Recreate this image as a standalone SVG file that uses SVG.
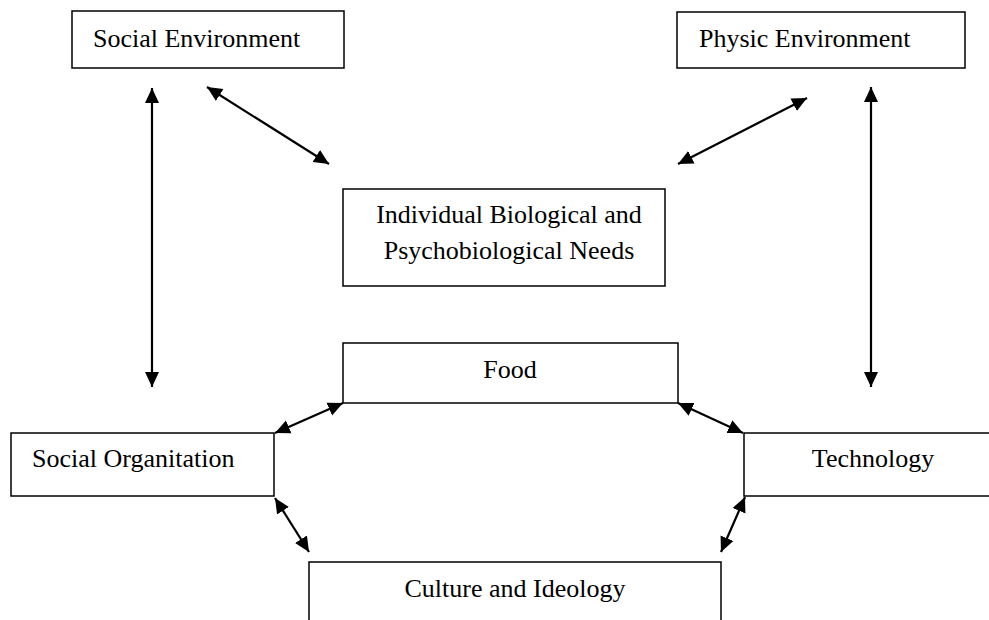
<svg xmlns="http://www.w3.org/2000/svg" width="989" height="620" viewBox="0 0 989 620">
<style>
.box{fill:#fff;stroke:#000;stroke-width:1.5}
.t{font-family:"Liberation Serif","Times New Roman",serif;font-size:26px;fill:#000}
.c{text-anchor:middle}
.arr{stroke:#000;stroke-width:2.2;fill:none;marker-start:url(#ah);marker-end:url(#ah)}
</style>
<defs>
<marker id="ah" markerUnits="userSpaceOnUse" markerWidth="16" markerHeight="16" refX="15" refY="7" orient="auto-start-reverse" viewBox="0 0 16 14">
<path d="M0,0 L15,7 L0,14 z" fill="#000"/>
</marker>
</defs>
<rect width="989" height="620" fill="#fff"/>
<g id="social-environment"><rect class="box" x="72" y="11" width="272" height="57"/><text class="t" x="93" y="47">Social Environment</text></g>
<g id="physic-environment"><rect class="box" x="677" y="12" width="288" height="56"/><text class="t" x="699" y="47">Physic Environment</text></g>
<g id="individual-needs"><rect class="box" x="343" y="189" width="322" height="97"/><text class="t c" x="509" y="223">Individual Biological and</text><text class="t c" x="509" y="259">Psychobiological Needs</text></g>
<g id="food"><rect class="box" x="343" y="343" width="335" height="60"/><text class="t c" x="510" y="378">Food</text></g>
<g id="social-organitation"><rect class="box" x="11" y="433" width="263" height="63"/><text class="t" x="32" y="467">Social Organitation</text></g>
<g id="technology"><rect class="box" x="744" y="433" width="260" height="63"/><text class="t c" x="873" y="467">Technology</text></g>
<g id="culture-ideology"><rect class="box" x="309" y="562" width="412" height="70"/><text class="t c" x="515" y="597">Culture and Ideology</text></g>
<g id="connectors">
<line class="arr" x1="152" y1="88" x2="152" y2="387"/>
<line class="arr" x1="207" y1="87" x2="329" y2="164"/>
<line class="arr" x1="807" y1="98" x2="678" y2="164"/>
<line class="arr" x1="871" y1="87" x2="871" y2="387"/>
<line class="arr" x1="343" y1="403" x2="275" y2="433"/>
<line class="arr" x1="275" y1="498" x2="309" y2="552"/>
<line class="arr" x1="678" y1="403" x2="743" y2="433"/>
<line class="arr" x1="745" y1="497" x2="721" y2="552"/>
</g>
</svg>
